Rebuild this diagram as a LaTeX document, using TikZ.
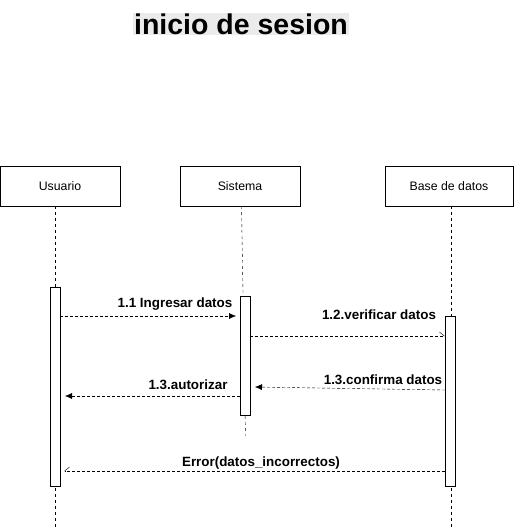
\documentclass[tikz,border=0pt]{standalone}
\usepackage{fontspec}
\setmainfont{Liberation Sans}
\usetikzlibrary{arrows.meta}
\begin{document}
\begin{tikzpicture}
  [x=1pt,y=-1pt,
   actor/.style={draw,minimum width=120pt,minimum height=40pt,font=\fontsize{12.3}{14}\selectfont},
   activation/.style={draw,fill=white,minimum width=10pt,inner sep=0pt},
   lifeline/.style={dash pattern=on 3pt off 3pt},
   msg/.style={dash pattern=on 3pt off 2pt},
   call/.style={msg,-{Latex[length=7pt,width=6pt]}},
   reply/.style={msg,-{Straight Barb[left,length=5pt,width=8pt]}},
   msglabel/.style={font=\bfseries\fontsize{13.4}{15}\selectfont,inner sep=0pt}]
  \useasboundingbox (0,0) rectangle (516,528);

  \node (title) at (241,24) [fill=black!8,inner sep=1pt,font=\bfseries\fontsize{28.5}{32}\selectfont] {inicio de sesion};

  \node (usuario) at (60,186) [actor] {Usuario};
  \node (sistema) at (240,186) [actor] {Sistema};
  \node (base) at (449,186) [actor,minimum width=128pt] {Base de datos};

  % lifelines
  \coordinate (uend) at (55.5,528);
  \coordinate (send) at (245.5,436);
  \coordinate (bend) at (451.5,528);
  \draw [lifeline] (55.5,206) to (uend);
  \draw [lifeline] (241.5,206) to (send);
  \draw [lifeline] (451.5,206) to (bend);

  % activations
  \node (uact) at (55,386.5) [activation,minimum height=199pt] {};
  \node (sact) at (245,355.5) [activation,minimum height=119pt] {};
  \node (bact) at (450.5,401) [activation,minimum height=170pt] {};

  % messages
  \coordinate (m1a) at (60,316);   \coordinate (m1b) at (236,316);
  \coordinate (m2a) at (250,336);  \coordinate (m2b) at (445,336);
  \coordinate (m3a) at (445,390);  \coordinate (m3b) at (255,387);
  \coordinate (m4a) at (240,396);  \coordinate (m4b) at (65,396);
  \coordinate (m5a) at (445,471);  \coordinate (m5b) at (64,471);

  \draw [call] (m1a) to (m1b);
  \node (l1) at (175,304) [msglabel] {1.1 Ingresar datos};
  \draw [reply] (m2a) to (m2b);
  \node (l2) at (379,315) [msglabel] {1.2.verificar datos};
  \draw [call] (m3a) to (m3b);
  \node (l3) at (383,380) [msglabel] {1.3.confirma datos};
  \draw [call] (m4a) to (m4b);
  \node (l4) at (188,385) [msglabel] {1.3.autorizar};
  \draw [msg,-{Straight Barb[right,length=5pt,width=8pt]}] (m5a) to (m5b);
  \node (l5) at (261,463) [msglabel] {Error(datos\_incorrectos)};
\end{tikzpicture}
\end{document}
